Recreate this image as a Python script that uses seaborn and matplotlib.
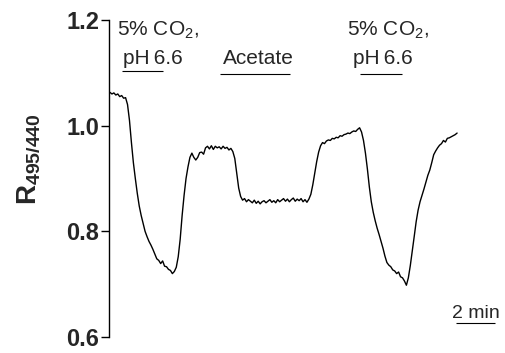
import numpy as np
import pandas as pd
import matplotlib
matplotlib.use("Agg")
import matplotlib.pyplot as plt
import seaborn as sns

# Fluorescence ratio trace, sampled every 0.1 min
sample_interval_min = 0.1
ratio = [
    1.063, 1.060, 1.062, 1.058, 1.060, 1.055, 1.057, 1.052, 1.053, 1.040,
    1.010, 0.968, 0.930, 0.900, 0.872, 0.848, 0.830, 0.815, 0.800, 0.790,
    0.781, 0.774, 0.766, 0.757, 0.748, 0.745, 0.739, 0.744, 0.734, 0.733,
    0.728, 0.726, 0.720, 0.724, 0.732, 0.752, 0.785, 0.830, 0.868, 0.900,
    0.922, 0.940, 0.948, 0.940, 0.935, 0.940, 0.949, 0.950, 0.946, 0.958,
    0.961, 0.956, 0.962, 0.955, 0.961, 0.958, 0.960, 0.956, 0.961, 0.957,
    0.959, 0.954, 0.957, 0.951, 0.938, 0.910, 0.882, 0.866, 0.859, 0.862,
    0.856, 0.860, 0.857, 0.854, 0.859, 0.853, 0.857, 0.852, 0.856, 0.858,
    0.854, 0.857, 0.860, 0.855, 0.858, 0.854, 0.860, 0.856, 0.859, 0.862,
    0.857, 0.861, 0.856, 0.860, 0.863, 0.857, 0.861, 0.858, 0.862, 0.856,
    0.860, 0.855, 0.861, 0.870, 0.888, 0.910, 0.932, 0.950, 0.962, 0.968,
    0.966, 0.971, 0.973, 0.972, 0.976, 0.975, 0.978, 0.977, 0.981, 0.980,
    0.983, 0.984, 0.986, 0.985, 0.988, 0.990, 0.989, 0.993, 0.996, 0.988,
    0.972, 0.948, 0.918, 0.884, 0.856, 0.836, 0.820, 0.806, 0.794, 0.781,
    0.768, 0.753, 0.741, 0.736, 0.733, 0.727, 0.725, 0.720, 0.723, 0.714,
    0.712, 0.706, 0.698, 0.712, 0.735, 0.762, 0.790, 0.818, 0.840, 0.856,
    0.868, 0.880, 0.893, 0.906, 0.916, 0.930, 0.945, 0.952, 0.958, 0.963,
    0.966, 0.972, 0.969, 0.976, 0.977, 0.979, 0.981, 0.983, 0.986,
]

# Perfusion periods (start, end) in minutes and their labels
periods = [(0.62, 2.72), (5.64, 9.23), (12.82, 14.97)]
period_labels = [
    ("5% CO$_2$,", "pH\u20096.6"),
    (None, "Acetate"),
    ("5% CO$_2$,", "pH\u20096.6"),
]

y_ticks = [0.6, 0.8, 1.0, 1.2]
scale_bar_min = 2

df = pd.DataFrame({
    "time": np.arange(len(ratio)) * sample_interval_min,
    "ratio": ratio,
})

sns.set_style("white")
plt.rcParams["font.family"] = ["Liberation Sans", "DejaVu Sans"]
plt.rcParams["mathtext.fontset"] = "custom"
plt.rcParams["mathtext.rm"] = "Liberation Sans"
plt.rcParams["mathtext.bf"] = "Liberation Sans:bold"
plt.rcParams["mathtext.it"] = "Liberation Sans:italic"

fig = plt.figure(figsize=(5.06, 3.53), dpi=100)
ax = fig.add_axes([109 / 506, 16 / 353, 391 / 506, 317 / 353])

sns.lineplot(data=df, x="time", y="ratio", color="black", linewidth=1.0, ax=ax)

ax.set_xlim(-0.05, 20.0)
ax.set_ylim(0.6, 1.2)
ax.set_yticks(y_ticks)
ax.set_yticklabels([f"{v:.1f}" for v in y_ticks], fontsize=17, fontweight="bold")
ax.tick_params(axis="y", direction="out", length=6, width=1, color="black", pad=1, left=True)
ax.set_xticks([])
ax.set_xlabel("")
for side in ["top", "right", "bottom"]:
    ax.spines[side].set_visible(False)
ax.spines["left"].set_color("black")
ax.spines["left"].set_linewidth(1.0)

ax.set_ylabel(r"$\mathbf{R_{495/440}}$", fontsize=20)
ax.yaxis.set_label_coords(-0.172, 0.56)

# Stimulus bars and labels
for (start, end), (top, bottom), dx_top, dx_bot, bar_y in zip(
    periods, period_labels, [-0.26, 0, -0.67], [0.05, 0.16, -0.36], [1.103, 1.098, 1.098]
):
    ax.plot([start, end], [bar_y, bar_y], color="black", lw=0.8, solid_capstyle="butt")
    if top:
        ax.text(start + dx_top, 1.181, top, fontsize=15, ha="left", va="center")
    ax.text(start + dx_bot, 1.128, bottom, fontsize=15, ha="left", va="center")

# Time scale bar
ax.plot([17.74, 17.74 + scale_bar_min], [0.626, 0.626], color="black", lw=0.8,
        solid_capstyle="butt", clip_on=False)
ax.text(17.74 + scale_bar_min / 2, 0.645, f"{scale_bar_min} min", fontsize=14,
        ha="center", va="center")

fig.savefig("out.png", dpi=100)
